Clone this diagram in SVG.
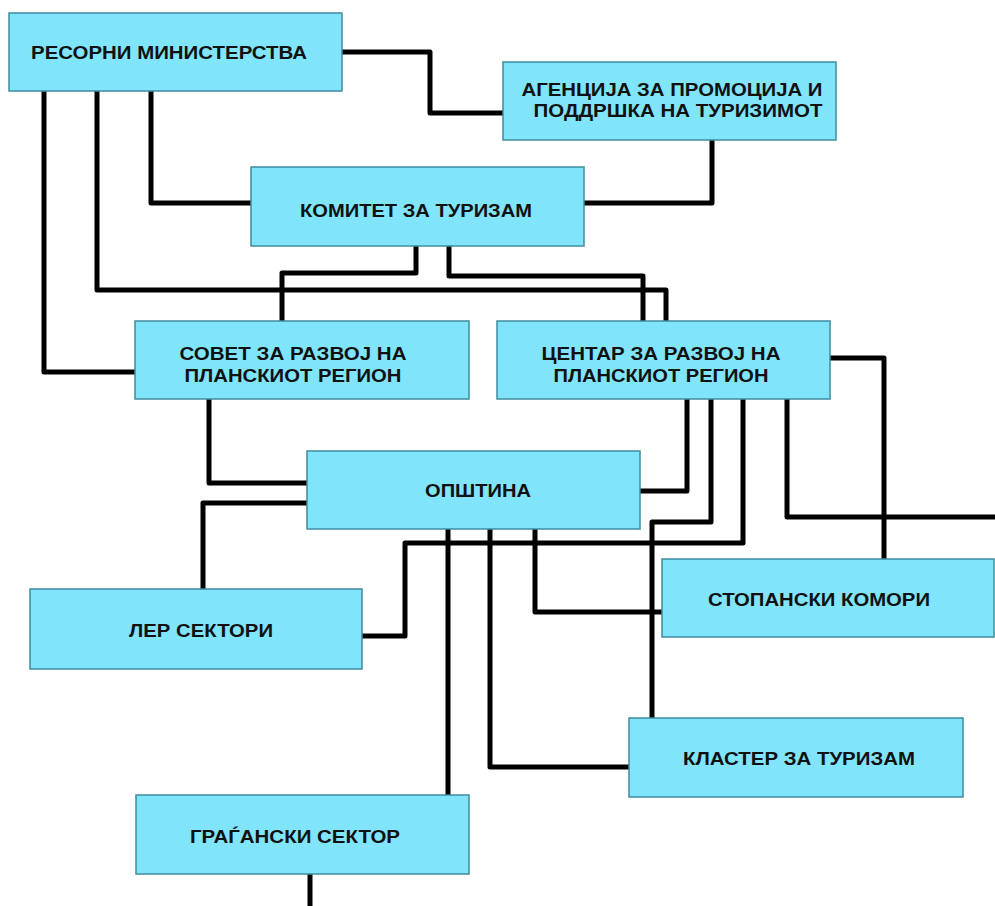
<svg xmlns="http://www.w3.org/2000/svg" width="995" height="906" viewBox="0 0 995 906">
<style>
.box{fill:#80E5FA;stroke:#3E8C9C;stroke-width:1.5}
.t{font-family:"Liberation Sans",Arial,sans-serif;font-weight:bold;font-size:19px;fill:#111;text-anchor:middle}
.c{fill:none;stroke:#000;stroke-width:5;stroke-linejoin:round}
</style>
<rect width="995" height="906" fill="#fff"/>
<g id="connectors">
<path class="c" d="M342,52 H430 V113 H503"/>
<path class="c" d="M712,140 V203 H584"/>
<path class="c" d="M151,91 V203 H251"/>
<path class="c" d="M97,91 V290 H666 V321"/>
<path class="c" d="M449,246 V276 H643 V321"/>
<path class="c" d="M416,246 V273 H282 V321"/>
<path class="c" d="M44,91 V372 H135"/>
<path class="c" d="M209,399 V483 H307"/>
<path class="c" d="M307,503 H203 V589"/>
<path class="c" d="M830,358 H884 V559"/>
<path class="c" d="M687,399 V491 H640"/>
<path class="c" d="M711,399 V522 H652 V718"/>
<path class="c" d="M743,399 V543 H405 V636 H362"/>
<path class="c" d="M787,399 V517 H995"/>
<path class="c" d="M535,529 V612 H662"/>
<path class="c" d="M448,529 V795"/>
<path class="c" d="M490,529 V767 H629"/>
<path class="c" d="M310,874 V906"/>
</g>
<g id="n1"><rect class="box" x="9" y="13" width="333" height="78"/><text class="t" x="169" y="59" textLength="276" lengthAdjust="spacingAndGlyphs">РЕСОРНИ МИНИСТЕРСТВА</text></g>
<g id="n2"><rect class="box" x="503" y="62" width="333" height="78"/><text class="t" x="672" y="96" textLength="301" lengthAdjust="spacingAndGlyphs">АГЕНЦИЈА ЗА ПРОМОЦИЈА И</text><text class="t" x="678" y="117" textLength="289" lengthAdjust="spacingAndGlyphs">ПОДДРШКА НА ТУРИЗИМОТ</text></g>
<g id="n3"><rect class="box" x="251" y="167" width="333" height="79"/><text class="t" x="416" y="217" textLength="232" lengthAdjust="spacingAndGlyphs">КОМИТЕТ ЗА ТУРИЗАМ</text></g>
<g id="n4"><rect class="box" x="135" y="321" width="334" height="78"/><text class="t" x="293" y="360" textLength="227" lengthAdjust="spacingAndGlyphs">СОВЕТ ЗА РАЗВОЈ НА</text><text class="t" x="293" y="382" textLength="217" lengthAdjust="spacingAndGlyphs">ПЛАНСКИОТ РЕГИОН</text></g>
<g id="n5"><rect class="box" x="497" y="321" width="333" height="78"/><text class="t" x="661" y="360" textLength="239" lengthAdjust="spacingAndGlyphs">ЦЕНТАР ЗА РАЗВОЈ НА</text><text class="t" x="661" y="382" textLength="215" lengthAdjust="spacingAndGlyphs">ПЛАНСКИОТ РЕГИОН</text></g>
<g id="n6"><rect class="box" x="307" y="451" width="333" height="78"/><text class="t" x="478" y="497" textLength="106" lengthAdjust="spacingAndGlyphs">ОПШТИНА</text></g>
<g id="n7"><rect class="box" x="30" y="589" width="332" height="80"/><text class="t" x="201" y="637" textLength="144" lengthAdjust="spacingAndGlyphs">ЛЕР СЕКТОРИ</text></g>
<g id="n8"><rect class="box" x="662" y="559" width="332" height="78"/><text class="t" x="819" y="606" textLength="222" lengthAdjust="spacingAndGlyphs">СТОПАНСКИ КОМОРИ</text></g>
<g id="n9"><rect class="box" x="629" y="718" width="334" height="79"/><text class="t" x="799" y="765" textLength="232" lengthAdjust="spacingAndGlyphs">КЛАСТЕР ЗА ТУРИЗАМ</text></g>
<g id="n10"><rect class="box" x="136" y="795" width="333" height="79"/><text class="t" x="295" y="843" textLength="210" lengthAdjust="spacingAndGlyphs">ГРАЃАНСКИ СЕКТОР</text></g>
</svg>
